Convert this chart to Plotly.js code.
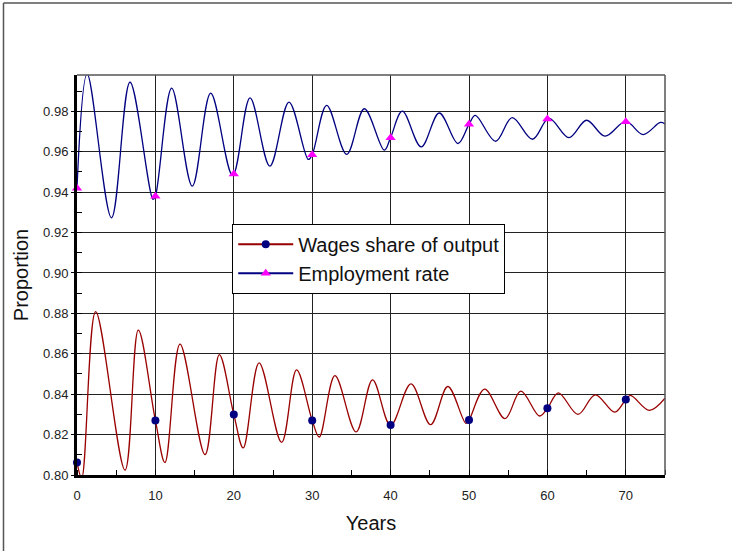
<!DOCTYPE html>
<html>
<head>
<meta charset="utf-8">
<script src="https://cdn.plot.ly/plotly-3.0.1.min.js"></script>
<style>html,body{margin:0;padding:0;background:#fff;}#chart{width:732px;height:551px;}</style>
</head>
<body>
<div id="chart"></div>
<script>
// Wages share of output: curve points read at extrema and marker positions
const wagesX = [0, 0.6, 2.38, 6.12, 7.82, 10, 11.22, 13.14, 16.33, 18.15, 20, 21.2, 23.23, 26.1, 28.0, 30, 30.9, 32.9, 35.6, 37.7, 40, 42.6, 45.1, 47.3, 49.6, 50, 52.0, 54.6, 56.6, 59.0, 60, 61.4, 63.9, 66.1, 68.6, 70, 70.6, 73.0, 75];
const wagesY = [0.8062, 0.7985, 0.8809, 0.8024, 0.8717, 0.8270, 0.8062, 0.8648, 0.8101, 0.8596, 0.8300, 0.8134, 0.8555, 0.8161, 0.8520, 0.8270, 0.8188, 0.8492, 0.8213, 0.8471, 0.8245, 0.8451, 0.8249, 0.8438, 0.8256, 0.8272, 0.8425, 0.8279, 0.8415, 0.8292, 0.8330, 0.8407, 0.8300, 0.8397, 0.8311, 0.8374, 0.8394, 0.8320, 0.8380];

// Employment rate
const emplX = [0, 1.3, 4.4, 6.76, 9.7, 10, 12.08, 14.7, 17.05, 19.85, 22.07, 24.6, 27.04, 29.5, 30, 31.85, 34.4, 36.65, 39.2, 40, 41.5, 43.9, 46.2, 48.6, 50, 50.8, 53.4, 55.5, 58.1, 60.2, 62.75, 65.0, 67.35, 70, 72.2, 74.4, 75];
const emplY = [0.9420, 0.9985, 0.9273, 0.9944, 0.9364, 0.9380, 0.9915, 0.9430, 0.9890, 0.9483, 0.9867, 0.9529, 0.9846, 0.9562, 0.9585, 0.9830, 0.9587, 0.9813, 0.9608, 0.9670, 0.9801, 0.9624, 0.9792, 0.9641, 0.9736, 0.9780, 0.9652, 0.9769, 0.9662, 0.9765, 0.9670, 0.9756, 0.9677, 0.9750, 0.9685, 0.9745, 0.9738];

// Marker points every 10 years
const markerYears = [0, 10, 20, 30, 40, 50, 60, 70];
const wagesMarkers = [0.8062, 0.8270, 0.8300, 0.8270, 0.8247, 0.8272, 0.8330, 0.8374];
const emplMarkers = [0.9420, 0.9380, 0.9490, 0.9585, 0.9670, 0.9736, 0.9762, 0.9749];

const xTickVals = [0, 10, 20, 30, 40, 50, 60, 70];
const yTickVals = [0.80, 0.82, 0.84, 0.86, 0.88, 0.90, 0.92, 0.94, 0.96, 0.98];

function gapped(arr) { const out = []; arr.forEach(v => { out.push(v); out.push(null); }); return out; }

const wagesColor = '#990000';
const emplColor = '#000080';

const traces = [
  {x: wagesX, y: wagesY, mode: 'lines', line: {color: wagesColor, width: 1.3, shape: 'spline', smoothing: 1}, showlegend: false, hoverinfo: 'skip'},
  {x: emplX, y: emplY, mode: 'lines', line: {color: emplColor, width: 1.3, shape: 'spline', smoothing: 1}, showlegend: false, hoverinfo: 'skip'},
  {x: gapped(markerYears), y: gapped(wagesMarkers), mode: 'lines+markers', name: 'Wages share of output', connectgaps: false,
   line: {color: wagesColor, width: 2}, marker: {symbol: 'circle', color: emplColor, size: 8}, cliponaxis: false},
  {x: gapped(markerYears), y: gapped(emplMarkers), mode: 'lines+markers', name: 'Employment rate', connectgaps: false,
   line: {color: emplColor, width: 2}, marker: {symbol: 'triangle-up', color: '#ff00ff', size: 9}, cliponaxis: false}
];

const font = 'Liberation Sans, Arial, sans-serif';

const layout = {
  width: 732, height: 551,
  margin: {l: 77, r: 67, t: 75, b: 76, pad: 0},
  paper_bgcolor: '#ffffff', plot_bgcolor: '#ffffff',
  font: {family: font, color: '#222'},
  showlegend: true,
  legend: {x: 0.264, y: 0.628, xanchor: 'left', yanchor: 'top', bgcolor: '#ffffff', bordercolor: '#000', borderwidth: 1,
           font: {family: font, size: 20, color: '#111'}, tracegroupgap: 0, itemwidth: 55},
  xaxis: {range: [0, 75], tickvals: xTickVals, ticktext: xTickVals.map(String), showgrid: true, gridcolor: '#222', gridwidth: 1,
          showline: true, linecolor: '#000', linewidth: 3, zeroline: false, ticks: '', ticklabelstandoff: 6,
          minor: {dtick: 5, tick0: 0, ticks: 'inside', ticklen: 5, tickcolor: '#000', showgrid: false},
          tickfont: {family: font, size: 13, color: '#222'},
          title: {text: 'Years', font: {family: font, size: 20, color: '#111'}, standoff: 15}},
  yaxis: {range: [0.80, 0.998], tickvals: yTickVals, ticktext: yTickVals.map(v => v.toFixed(2)), showgrid: true, gridcolor: '#222', gridwidth: 1,
          showline: true, linecolor: '#000', linewidth: 3, zeroline: false, ticks: 'outside', ticklen: 3, tickcolor: '#000',
          minor: {dtick: 0.01, tick0: 0.8, ticks: 'inside', ticklen: 5, tickcolor: '#000', showgrid: false},
          tickfont: {family: font, size: 13, color: '#222'},
          title: {text: 'Proportion', font: {family: font, size: 20, color: '#111'}, standoff: 10}},
  shapes: [
    {type: 'line', xref: 'paper', yref: 'paper', x0: 0, x1: 1, y0: 1, y1: 1, line: {color: '#555', width: 1.5}},
    {type: 'line', xref: 'paper', yref: 'paper', x0: 1, x1: 1, y0: 0, y1: 1, line: {color: '#555', width: 1.5}},
    {type: 'line', xref: 'paper', yref: 'paper', x0: -0.125, x1: -0.125, y0: -0.2, y1: 1.18, line: {color: '#555', width: 1.5}},
    {type: 'line', xref: 'paper', yref: 'paper', x0: -0.125, x1: 1.2, y0: 1.18, y1: 1.18, line: {color: '#555', width: 1.5}}
  ]
};

Plotly.newPlot('chart', traces, layout, {staticPlot: true, displayModeBar: false});
</script>
</body>
</html>
